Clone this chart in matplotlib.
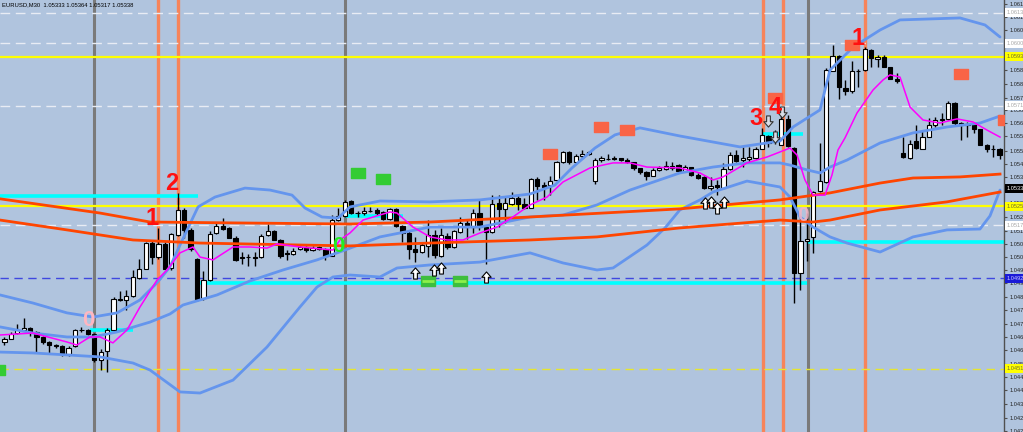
import matplotlib
matplotlib.use("Agg")
import matplotlib.pyplot as plt
from matplotlib.path import Path
import numpy as np

# ---------------- candle data (EURUSD M30) ----------------
opens = [1.04634,1.04652,1.04677,1.04691,1.04700,1.04682,1.04659,1.04636,1.04622,1.04616,
         1.04581,1.04616,1.04689,1.04693,1.04673,1.04554,1.04593,1.04691,1.04832,1.04826,
         1.04846,1.04928,1.04971,1.05087,1.05023,1.05084,1.04973,1.05125,1.05240,1.05146,
         1.05015,1.04836,1.04918,1.05134,1.05167,1.05155,1.05112,1.05022,1.05024,1.05024,
         1.05024,1.05125,1.05143,1.05103,1.05043,1.05039,1.05061,1.05070,1.05058,1.05070,
         1.05061,1.05030,1.05192,1.05212,1.05279,1.05227,1.05224,1.05236,1.05239,1.05230,
         1.05197,1.05245,1.05166,1.05133,1.05062,1.05047,1.05075,1.05126,1.05029,1.05120,
         1.05069,1.05139,1.05178,1.05160,1.05227,1.05163,1.05139,1.05272,1.05245,1.05268,
         1.05295,1.05265,1.05249,1.05380,1.05353,1.05353,1.05375,1.05460,1.05503,1.05457,
         1.05487,1.05496,1.05371,1.05466,1.05472,1.05475,1.05475,1.05469,1.05457,1.05429,
         1.05411,1.05396,1.05420,1.05426,1.05441,1.05443,1.05418,1.05434,1.05400,1.05391,
         1.05339,1.05352,1.05339,1.05425,1.05489,1.05467,1.05473,1.05476,1.05519,1.05577,
         1.05559,1.05537,1.05653,1.05522,1.04950,1.05099,1.05117,1.05324,1.05367,1.05875,
         1.05942,1.05796,1.05784,1.05872,1.05878,1.05970,1.05927,1.05936,1.05891,1.05839,
         1.05501,1.05476,1.05553,1.05519,1.05574,1.05629,1.05650,1.05653,1.05726,1.05635,
         1.05626,1.05632,1.05608,1.05534,1.05519,1.05516]
highs = [1.04659,1.04680,1.04718,1.04746,1.04705,1.04686,1.04664,1.04641,1.04627,1.04622,
         1.04616,1.04696,1.04705,1.04696,1.04677,1.04604,1.04700,1.04843,1.04870,1.04874,
         1.04965,1.05014,1.05094,1.05097,1.05157,1.05093,1.05134,1.05317,1.05248,1.05157,
         1.05020,1.04960,1.05143,1.05186,1.05204,1.05161,1.05118,1.05047,1.05040,1.05049,
         1.05128,1.05176,1.05149,1.05107,1.05058,1.05064,1.05076,1.05076,1.05076,1.05075,
         1.05064,1.05216,1.05248,1.05285,1.05285,1.05233,1.05251,1.05254,1.05248,1.05236,
         1.05248,1.05248,1.05170,1.05148,1.05114,1.05087,1.05193,1.05148,1.05157,1.05133,
         1.05148,1.05208,1.05193,1.05242,1.05291,1.05172,1.05306,1.05309,1.05303,1.05323,
         1.05307,1.05292,1.05386,1.05390,1.05368,1.05396,1.05463,1.05508,1.05508,1.05496,
         1.05512,1.05508,1.05475,1.05484,1.05493,1.05484,1.05478,1.05475,1.05460,1.05432,
         1.05417,1.05432,1.05438,1.05463,1.05460,1.05449,1.05444,1.05437,1.05409,1.05394,
         1.05391,1.05376,1.05452,1.05504,1.05513,1.05528,1.05525,1.05528,1.05613,1.05583,
         1.05604,1.05674,1.05674,1.05525,1.05208,1.05224,1.05327,1.05544,1.05887,1.05991,
         1.05948,1.05833,1.05918,1.05882,1.05982,1.05973,1.05948,1.05948,1.05893,1.05863,
         1.05574,1.05559,1.05626,1.05604,1.05659,1.05662,1.05681,1.05735,1.05732,1.05641,
         1.05641,1.05635,1.05610,1.05540,1.05537,1.05522]
lows = [1.04622,1.04648,1.04673,1.04686,1.04664,1.04590,1.04627,1.04586,1.04609,1.04570,
        1.04572,1.04613,1.04682,1.04668,1.04545,1.04508,1.04499,1.04686,1.04823,1.04782,
        1.04842,1.04925,1.04968,1.04992,1.05016,1.04968,1.04965,1.05120,1.05111,1.05052,
        1.04823,1.04830,1.04915,1.05129,1.05148,1.05109,1.05008,1.04994,1.04985,1.04985,
        1.05021,1.05122,1.05101,1.05021,1.05012,1.05033,1.05056,1.05046,1.05052,1.05056,
        1.05012,1.05028,1.05190,1.05209,1.05221,1.05206,1.05218,1.05230,1.05218,1.05193,
        1.05193,1.05163,1.05093,1.05016,1.05001,1.05041,1.05026,1.05020,1.05023,1.05062,
        1.05065,1.05133,1.05108,1.05133,1.05148,1.04992,1.05135,1.05163,1.05180,1.05262,
        1.05238,1.05244,1.05247,1.05283,1.05286,1.05307,1.05371,1.05454,1.05450,1.05454,
        1.05478,1.05490,1.05356,1.05460,1.05466,1.05467,1.05463,1.05454,1.05423,1.05405,
        1.05375,1.05393,1.05417,1.05420,1.05423,1.05412,1.05412,1.05394,1.05379,1.05333,
        1.05330,1.05306,1.05336,1.05422,1.05458,1.05437,1.05455,1.05473,1.05516,1.05528,
        1.05540,1.05534,1.05525,1.04813,1.04874,1.05005,1.05041,1.05321,1.05364,1.05872,
        1.05747,1.05766,1.05772,1.05802,1.05875,1.05893,1.05893,1.05891,1.05836,1.05820,
        1.05476,1.05473,1.05519,1.05516,1.05571,1.05619,1.05626,1.05650,1.05629,1.05559,
        1.05574,1.05589,1.05534,1.05504,1.05482,1.05470]
closes = [1.04648,1.04673,1.04691,1.04700,1.04682,1.04659,1.04634,1.04622,1.04616,1.04581,
          1.04609,1.04689,1.04691,1.04673,1.04552,1.04590,1.04689,1.04831,1.04828,1.04846,
          1.04932,1.04971,1.05087,1.05023,1.05084,1.04971,1.05128,1.05241,1.05146,1.05061,
          1.04832,1.04918,1.05131,1.05167,1.05152,1.05112,1.05012,1.05020,1.05022,1.05021,
          1.05122,1.05143,1.05103,1.05028,1.05040,1.05052,1.05070,1.05055,1.05067,1.05061,
          1.05030,1.05192,1.05212,1.05276,1.05224,1.05224,1.05236,1.05234,1.05227,1.05197,
          1.05245,1.05166,1.05133,1.05059,1.05047,1.05078,1.05126,1.05032,1.05123,1.05069,
          1.05142,1.05178,1.05163,1.05227,1.05163,1.05139,1.05266,1.05245,1.05270,1.05292,
          1.05265,1.05249,1.05380,1.05350,1.05344,1.05371,1.05457,1.05503,1.05457,1.05487,
          1.05496,1.05503,1.05469,1.05475,1.05470,1.05472,1.05466,1.05457,1.05429,1.05411,
          1.05396,1.05423,1.05432,1.05438,1.05429,1.05418,1.05434,1.05397,1.05385,1.05339,
          1.05348,1.05343,1.05425,1.05489,1.05464,1.05476,1.05480,1.05519,1.05580,1.05544,
          1.05568,1.05653,1.05531,1.04953,1.05096,1.05108,1.05321,1.05370,1.05878,1.05942,
          1.05799,1.05784,1.05872,1.05875,1.05973,1.05933,1.05936,1.05893,1.05839,1.05829,
          1.05480,1.05540,1.05522,1.05574,1.05629,1.05650,1.05656,1.05729,1.05635,1.05626,
          1.05632,1.05608,1.05537,1.05516,1.05518,1.05491]

# ---------------- indicators (x = bar index) ----------------
bb_up_x = [-0.69,4.45,9.75,13.8,17.54,21.12,23.77,25.79,27.35,30.16,32.8,37.48,41.37,44.8,46.82,
           49.47,51.96,53.83,58.5,66.29,74.08,77.94,81.87,85.76,88.41,91.99,95.11,99.0,105.2,
           114.58,120.81,122.84,127.04,128.6,132.2,136.4,139.5,148.85,152.74,155.08]
bb_up_y = [1.04851,1.04814,1.04769,1.04750,1.04769,1.04828,1.04906,1.04979,1.05079,1.05253,
           1.05298,1.05339,1.05330,1.05307,1.05248,1.05207,1.05202,1.05253,1.05280,1.05276,
           1.05285,1.05298,1.05312,1.05353,1.05431,1.05522,1.05582,1.05614,1.05577,1.05527,
           1.05554,1.05618,1.05696,1.05878,1.05983,1.06061,1.06107,1.06116,1.06084,1.06029]
bb_mid_x = [-0.69,4.45,9.75,13.8,17.54,22.68,25.79,27.82,33.12,38.26,43.4,48.69,53.05,58.5,
            66.29,74.08,81.87,87.01,92.3,97.45,105.2,110.37,115.67,120.81,122.37,125.02,127.04,
            128.6,131.24,136.4,141.53,146.82,151.96,155.08]
bb_mid_y = [1.04705,1.04677,1.04659,1.04659,1.04682,1.04727,1.04764,1.04805,1.04851,1.04915,
            1.04965,1.05011,1.05056,1.05116,1.05161,1.05161,1.05207,1.05216,1.05262,1.05330,
            1.05408,1.05435,1.05454,1.05454,1.05444,1.05422,1.05408,1.05435,1.05467,1.05545,
            1.05591,1.05618,1.05636,1.05668]
bb_low_x = [-0.69,4.45,9.75,14.89,20.03,22.68,27.35,30.47,35.61,40.9,46.04,48.69,51.18,53.83,
            58.5,61.15,66.29,74.08,81.87,87.01,92.3,94.8,100.09,102.9,105.2,108.35,110.37,
            115.67,120.81,122.37,123.93,125.95,128.6,131.24,136.4,141.53,146.82,151.96,153.52,155.08]
bb_low_y = [1.04590,1.04586,1.04577,1.04568,1.04540,1.04508,1.04408,1.04403,1.04462,1.04613,
            1.04796,1.04887,1.04933,1.04942,1.04933,1.04974,1.04988,1.05001,1.05043,1.04997,
            1.04965,1.04974,1.05079,1.05157,1.05239,1.05285,1.05321,1.05371,1.05344,1.05298,
            1.05207,1.05161,1.05116,1.05088,1.05047,1.05116,1.05148,1.05152,1.05212,1.05330]
ma_fast_x = [-0.69,4.45,9.75,11.3,13.33,14.89,16.9,19.1,21.12,23.77,25.33,27.35,29.38,30.47,32.49,
             35.61,38.26,40.9,42.46,46.04,51.18,52.27,53.83,55.86,60.06,61.15,63.64,66.29,68.94,
             71.43,74.08,76.73,79.2,81.87,84.52,87.01,91.21,94.8,97.45,100.09,105.2,108.35,110.37,
             111.93,115.67,118.79,120.81,122.37,123.46,124.7,125.95,127.82,128.91,129.84,130.93,
             132.8,135.3,136.86,137.95,139.5,141.07,143.08,145.73,148.38,150.87,153.05,155.08]
ma_fast_y = [1.04668,1.04677,1.04636,1.04622,1.04659,1.04659,1.04632,1.04691,1.04796,1.04919,
             1.04965,1.05043,1.05070,1.05024,1.05011,1.05070,1.05070,1.05065,1.05084,1.05070,
             1.05056,1.05102,1.05134,1.05193,1.05230,1.05225,1.05161,1.05116,1.05102,1.05102,
             1.05134,1.05161,1.05207,1.05262,1.05298,1.05367,1.05431,1.05454,1.05454,1.05435,
             1.05431,1.05408,1.05376,1.05390,1.05454,1.05481,1.05504,1.05522,1.05490,1.05376,
             1.05307,1.05307,1.05399,1.05513,1.05568,1.05682,1.05787,1.05833,1.05856,1.05846,
             1.05709,1.05650,1.05636,1.05655,1.05641,1.05604,1.05572]
ma_slow1_x = [-0.69,14.89,22.68,35.61,53.83,66.29,81.87,105.2,120.81,128.6,136.4,141.53,148.85,155.08]
ma_slow1_y = [1.05290,1.05225,1.05184,1.05180,1.05175,1.05184,1.05207,1.05244,1.05285,1.05317,
              1.05362,1.05385,1.05390,1.05403]
ma_slow2_x = [-0.69,9.75,20.03,30.47,46.04,53.83,66.29,81.87,92.3,105.2,120.81,125.95,128.6,136.4,146.82,155.08]
ma_slow2_y = [1.05193,1.05148,1.05102,1.05088,1.05079,1.05075,1.05088,1.05102,1.05116,1.05157,
              1.05193,1.05184,1.05193,1.05239,1.05276,1.05321]

# ---------------- objects ----------------
vline_grey = [14, 53, 125.2]
vline_orange = [24, 27, 118.2, 121.3, 134]
hline_white_dash = [1.06139, 1.06002, 1.05714, 1.05170]
hline_yellow = [1.05938, 1.05257]
hline_yellow_dash = [1.04513]
hline_blue_dash = [1.04927]
cyan_price = [1.05303, 1.04691, 1.04906, 1.05093, 1.05586, 1.05212]
cyan_start = [-0.7, 13.3, 30.5, 125.0, 118.2, 53.0]
cyan_end = [30.2, 20.0, 125.0, 156.0, 124.4, 62.1]

labels_red = ["1", "2", "3", "4", "1"]
labels_red_x = [23.0, 26.0, 117.1, 120.0, 133.0]
labels_red_y = [1.05202, 1.05362, 1.05659, 1.05709, 1.06020]

sq_red_x = [85.0, 93.0, 97.0, 120.0, 132.0, 149.0, 155.9]
sq_red_y = [1.05495, 1.05618, 1.05604, 1.05750, 1.05993, 1.05860, 1.05650]
sq_green_x = [55.1, 59.0, -1.0]
sq_green_y = [1.05408, 1.05381, 1.04508]
sq_stripe_x = [66.0, 71.0]
sq_stripe_y = [1.04915, 1.04915]
arrow_up_x = [63.95, 66.9, 68.0, 75.0, 109.1, 110.0, 111.0, 112.1]
arrow_up_y = [1.04951, 1.04965, 1.04974, 1.04933, 1.05271, 1.05276, 1.05248, 1.05276]
arrow_dn_x = [118.9, 120.0, 121.1]
arrow_dn_y = [1.05645, 1.05572, 1.05687]

tick_labels = ["1.06180","1.06120","1.06060","1.06000","1.05940","1.05880","1.05815","1.05750",
               "1.05695","1.05635","1.05575","1.05510","1.05450","1.05390","1.05330","1.05270",
               "1.05205","1.05145","1.05085","1.05025","1.04965","1.04905","1.04840","1.04780",
               "1.04720","1.04660","1.04600","1.04535","1.04475","1.04415","1.04355","1.04290",
               "1.04230"]
price_boxes = ["1.06139", "1.06000", "1.05938", "1.05714", "1.05338", "1.05257", "1.05170", "1.04927", "1.04513"]
box_style = ["white", "white", "yellow", "white", "black", "yellow", "white", "blue", "yellow"]

title = "EURUSD,M30  1.05333 1.05364 1.05317 1.05338"

# ---------------- drawing ----------------
BG = "#B0C4DE"
fig = plt.figure(figsize=(10.23, 4.32), dpi=100)
fig.patch.set_facecolor(BG)
ax = fig.add_axes([0, 0, 1004 / 1023, 1])
ax.set_facecolor(BG)
ax.set_xlim(-0.685, 155.7)
ax.set_ylim(1.04225, 1.06198)

small_font = ["Liberation Sans", "DejaVu Sans"]
for s in ["top", "left", "bottom"]:
    ax.spines[s].set_visible(False)
ax.spines["right"].set_color("#505050")
ax.spines["right"].set_linewidth(1.0)
ax.set_xticks([])
ax.yaxis.tick_right()
ax.set_yticks([float(t) for t in tick_labels])
ax.set_yticklabels(tick_labels, fontfamily=small_font)
ax.tick_params(axis="y", direction="out", length=2.5, width=0.8, color="#505050",
               labelsize=4.1, labelcolor="#222222", pad=1.5)

for x in vline_grey:
    ax.axvline(x, color="#7A7A7A", lw=2.2, zorder=1)
for x in vline_orange:
    ax.axvline(x, color="#F7845A", lw=2.4, zorder=1)
for p in hline_white_dash:
    ax.axhline(p, color="#E8ECF4", lw=1.0, ls=(0, (7, 4)), zorder=1)
for p in hline_yellow:
    ax.axhline(p, color="#FFFF00", lw=1.6, zorder=1)
for p in hline_yellow_dash:
    ax.axhline(p, color="#E6E62E", lw=1.0, ls=(0, (6, 4)), zorder=1)
for p in hline_blue_dash:
    ax.axhline(p, color="#3F48E0", lw=1.0, ls=(0, (6, 4)), zorder=1)
ax.hlines(cyan_price, cyan_start, cyan_end, color="#00FFFF", lw=2.6, zorder=1.5)

# candles
o = np.array(opens); h = np.array(highs); l = np.array(lows); c = np.array(closes)
idx = np.arange(len(o))
up = c >= o
ax.vlines(idx, l, h, color="black", lw=1.0, zorder=3)
bottom = np.minimum(o, c)
height = np.maximum(np.abs(c - o), 0.000006)
ax.bar(idx[up], height[up], bottom=bottom[up], width=0.66, color="white",
       edgecolor="black", linewidth=0.8, zorder=4)
ax.bar(idx[~up], height[~up], bottom=bottom[~up], width=0.66, color="black",
       edgecolor="black", linewidth=0.8, zorder=4)

# indicators
ax.plot(bb_up_x, bb_up_y, color="#6495ED", lw=2.0, zorder=5, solid_capstyle="round")
ax.plot(bb_mid_x, bb_mid_y, color="#6495ED", lw=2.0, zorder=5, solid_capstyle="round")
ax.plot(bb_low_x, bb_low_y, color="#6495ED", lw=2.0, zorder=5, solid_capstyle="round")
ax.plot(ma_slow1_x, ma_slow1_y, color="#FF4500", lw=2.0, zorder=5)
ax.plot(ma_slow2_x, ma_slow2_y, color="#FF4500", lw=2.0, zorder=5)
ax.plot(ma_fast_x, ma_fast_y, color="#FF00FF", lw=1.1, zorder=5.5)

# markers
rect = Path([(-0.65, -0.5), (0.65, -0.5), (0.65, 0.5), (-0.65, 0.5), (-0.65, -0.5)],
            [Path.MOVETO, Path.LINETO, Path.LINETO, Path.LINETO, Path.CLOSEPOLY])
up_arrow = Path([(0, 0.5), (0.42, 0.02), (0.17, 0.02), (0.17, -0.5), (-0.17, -0.5),
                 (-0.17, 0.02), (-0.42, 0.02), (0, 0.5)],
                [Path.MOVETO] + [Path.LINETO] * 6 + [Path.CLOSEPOLY])
dn_arrow = Path([(x, -y) for x, y in up_arrow.vertices], up_arrow.codes)

ax.plot(sq_red_x, sq_red_y, ls="none", marker=rect, markersize=9.6,
        mfc="#F96446", mec="#F96446", zorder=6)
ax.plot(sq_green_x, sq_green_y, ls="none", marker=rect, markersize=9.6,
        mfc="#33CC33", mec="#33CC33", zorder=6)
ax.plot(sq_stripe_x, sq_stripe_y, ls="none", marker=rect, markersize=9.6,
        mfc="#3DBE3D", mec="#3DBE3D", zorder=6)
ax.plot(sq_stripe_x, sq_stripe_y, ls="none", marker="_", markersize=9.0,
        mec="#8CF04A", mew=2.0, zorder=6.1)
ax.plot(arrow_up_x, arrow_up_y, ls="none", marker=up_arrow, markersize=8,
        mfc="white", mec="black", mew=0.8, zorder=7)
ax.plot(arrow_dn_x, arrow_dn_y, ls="none", marker=dn_arrow, markersize=8,
        mfc="#D8DEE8", mec="#333333", mew=0.8, zorder=7)

num_font = ["Liberation Sans Narrow", "DejaVu Sans Condensed", "Liberation Sans", "DejaVu Sans"]
for t, x, y in zip(labels_red, labels_red_x, labels_red_y):
    ax.text(x, y, t, color="#FF1010", fontsize=17, fontweight="bold", family=num_font,
            fontstretch="condensed", ha="center", va="center", zorder=8)
ax.text(13.0, 1.04732, "0", color="#FFB6C1", fontsize=16, fontweight="bold", family=num_font,
        fontstretch="condensed", ha="center", va="center", zorder=8)
ax.text(124.4, 1.05216, "0", color="#F5B6C6", fontsize=15, fontweight="bold", family=num_font,
        fontstretch="condensed", ha="center", va="center", zorder=8, alpha=0.85)
ax.text(52.0, 1.05070, "0", color="#22EE22", fontsize=16, fontweight="bold", family=num_font,
        fontstretch="condensed", ha="center", va="center", zorder=8)

# price boxes on the axis
styles = {"white": ("white", "#A8A8A8"), "yellow": ("#FFFF00", "#6E6E30"),
          "black": ("black", "white"), "blue": ("#1A1AD8", "#C8C8FF")}
trans = ax.get_yaxis_transform()
for txt, st in zip(price_boxes, box_style):
    fc, tc = styles[st]
    ax.text(1.0 + 3 / 1004, float(txt), txt, transform=trans, fontsize=4.1, color=tc,
            family=small_font, ha="left", va="center", clip_on=False, zorder=20,
            bbox=dict(boxstyle="square,pad=0.35", fc=fc, ec="none"))

fig.text(2 / 1023, 1 - 5 / 432, title, fontsize=4.2, color="black", ha="left", va="center",
         family=small_font)

fig.savefig("out.png", dpi=100, facecolor=BG)
